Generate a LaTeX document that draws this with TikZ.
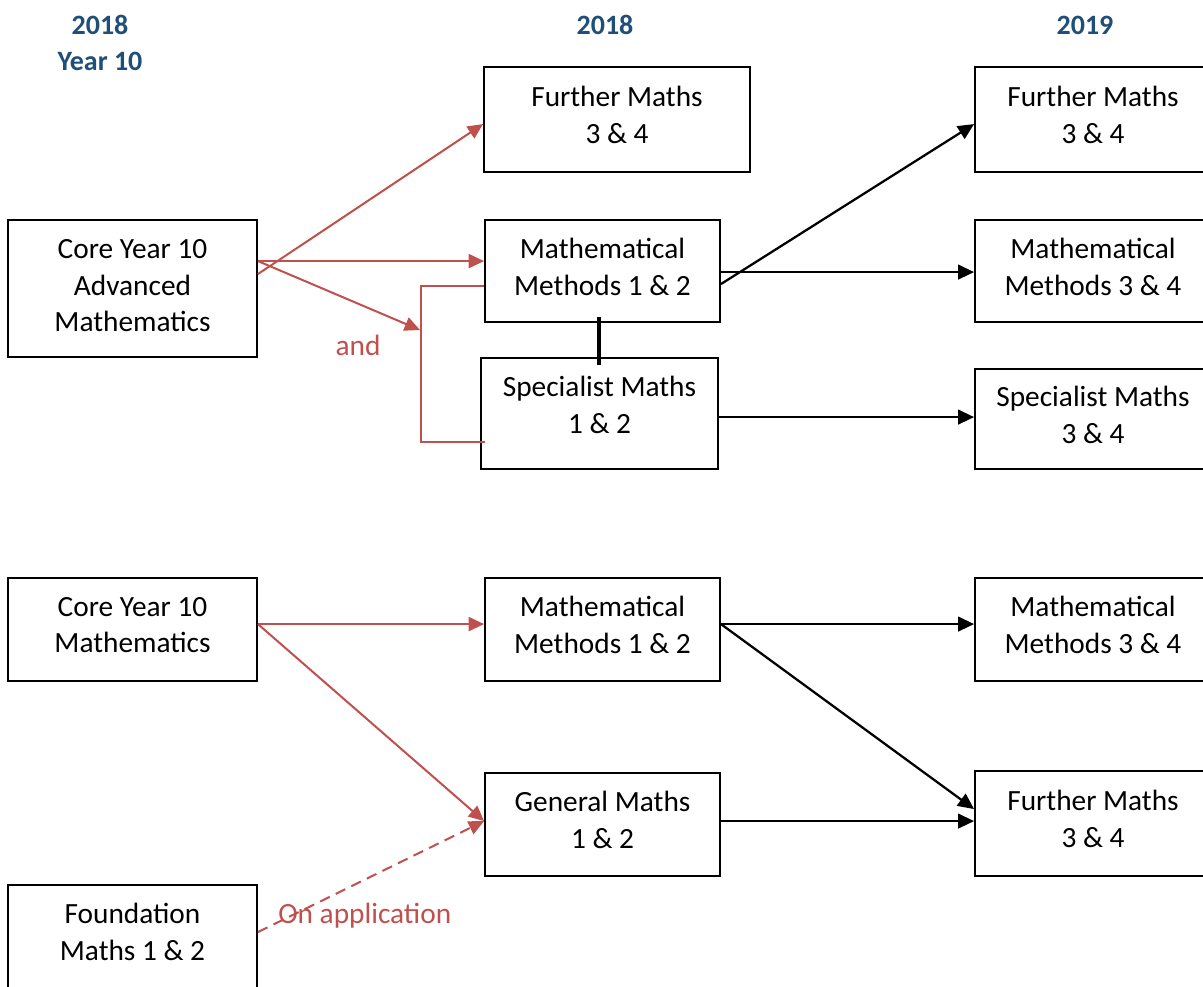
\documentclass[tikz,border=0pt]{standalone}
\usepackage{fontspec}
\setmainfont{Carlito}
\usetikzlibrary{arrows.meta,calc}
\definecolor{hdblue}{RGB}{31,78,121}
\definecolor{redc}{RGB}{192,80,77}
\begin{document}
\begin{tikzpicture}[x=0.75pt,y=-0.75pt,
 box/.style={draw=black,line width=1.4pt,align=center,font=\fontsize{22}{27.5}\selectfont,inner sep=0pt,
   execute at begin node={\rule{0pt}{18pt}},
   execute at end node={\rule[-#1]{0pt}{#1}}},
 box/.default=6.7pt,
 hd/.style={text=hdblue,font=\fontsize{21}{27}\selectfont\bfseries,align=center,inner sep=0pt},
 redar/.style={draw=redc,line width=1.5pt,-{Triangle[length=11.5pt,width=10.5pt]}},
 blkar/.style={draw=black,line width=1.7pt,-{Triangle[length=12pt,width=11pt]}},
 redtxt/.style={text=redc,font=\fontsize{22}{27}\selectfont,inner sep=0pt},
]
\useasboundingbox (0,0) rectangle (1203,986);
% headings
\node[hd] (h1) at (100,43) {2018\\Year 10};
\node[hd] (h2) at (605,25) {2018};
\node[hd] (h3) at (1085,25) {2019};
% top section boxes
\node[box=4.5pt,minimum width=186.75pt,minimum height=102.75pt] (adv) at (132.5,288.5) {Core Year 10\\Advanced\\Mathematics};
\node[box,minimum width=199.5pt,minimum height=78.75pt] (fm18) at (617,119.5) {Further Maths\\3 \& 4};
\node[box,minimum width=176.25pt,minimum height=76.5pt] (mm12a) at (602.5,271) {Mathematical\\Methods 1 \& 2};
\node[box=12.9pt,minimum width=177.75pt,minimum height=83.25pt] (sm12) at (599.5,413.5) {Specialist Maths\\1 \& 2};
\node[box,minimum width=177pt,minimum height=78.75pt] (fm19a) at (1093,119.5) {Further Maths\\3 \& 4};
\node[box,minimum width=177pt,minimum height=76.5pt] (mm34a) at (1093,271) {Mathematical\\Methods 3 \& 4};
\node[box,minimum width=177pt,minimum height=75pt] (sm34) at (1093,419) {Specialist Maths\\3 \& 4};
% bottom section boxes
\node[box,minimum width=186.75pt,minimum height=77.25pt] (core) at (132.5,629.5) {Core Year 10\\Mathematics};
\node[box,minimum width=176.25pt,minimum height=77.25pt] (mm12b) at (602.5,629.5) {Mathematical\\Methods 1 \& 2};
\node[box,minimum width=176.25pt,minimum height=77.25pt] (gm12) at (602.5,824.5) {General Maths\\1 \& 2};
\node[box,minimum width=177pt,minimum height=77.25pt] (mm34b) at (1093,629.5) {Mathematical\\Methods 3 \& 4};
\node[box,minimum width=177pt,minimum height=78.75pt] (fm19b) at (1093,823.5) {Further Maths\\3 \& 4};
\node[box=9pt,minimum width=186.75pt,minimum height=78.75pt] (found) at (132.5,937.5) {Foundation\\Maths 1 \& 2};
% top connectors
\draw[redar] ($(adv.north east)+(0,55)$) -- ($(fm18.north west)+(0,58)$);
\draw[redar] ($(adv.north east)+(0,42)$) -- ($(mm12a.north west)+(0,42)$);
\coordinate (andtip) at (420,330);
\draw[redar] ($(adv.north east)+(0,42)$) -- (andtip);
\draw[redc,line width=0.9pt] ($(mm12a.north west)+(0,67)$) -- ++(-63,0) |- ($(sm12.north west)+(5,85)$);
\node[redtxt] (andlbl) at (358,345) {and};
\draw[line width=3pt] ($(mm12a.south west)+(115,-6)$) -- ($(sm12.north west)+(119,8)$);
\draw[blkar] ($(mm12a.north east)+(0,65)$) -- ($(fm19a.north west)+(0,58)$);
\draw[blkar] ($(mm12a.north east)+(0,53)$) -- ($(mm34a.north west)+(0,53)$);
\draw[blkar] ($(sm12.north east)+(0,60)$) -- ($(sm34.north west)+(0,49)$);
% bottom connectors
\draw[redar] ($(core.north east)+(0,47)$) -- ($(mm12b.north west)+(0,47)$);
\draw[redar] ($(core.north east)+(0,47)$) -- ($(gm12.north west)+(0,49)$);
\draw[redar,dash pattern=on 8pt off 5pt] ($(found.north east)+(0,48)$) -- ($(gm12.north west)+(0,49)$);
\node[redtxt,anchor=west] (onapp) at (278,916) {On application};
\draw[blkar] ($(mm12b.north east)+(0,47)$) -- ($(mm34b.north west)+(0,47)$);
\draw[blkar] ($(mm12b.north east)+(0,47)$) -- ($(fm19b.north west)+(0,39)$);
\draw[blkar] ($(gm12.north east)+(0,49)$) -- ($(fm19b.north west)+(0,51)$);
\end{tikzpicture}
\end{document}
